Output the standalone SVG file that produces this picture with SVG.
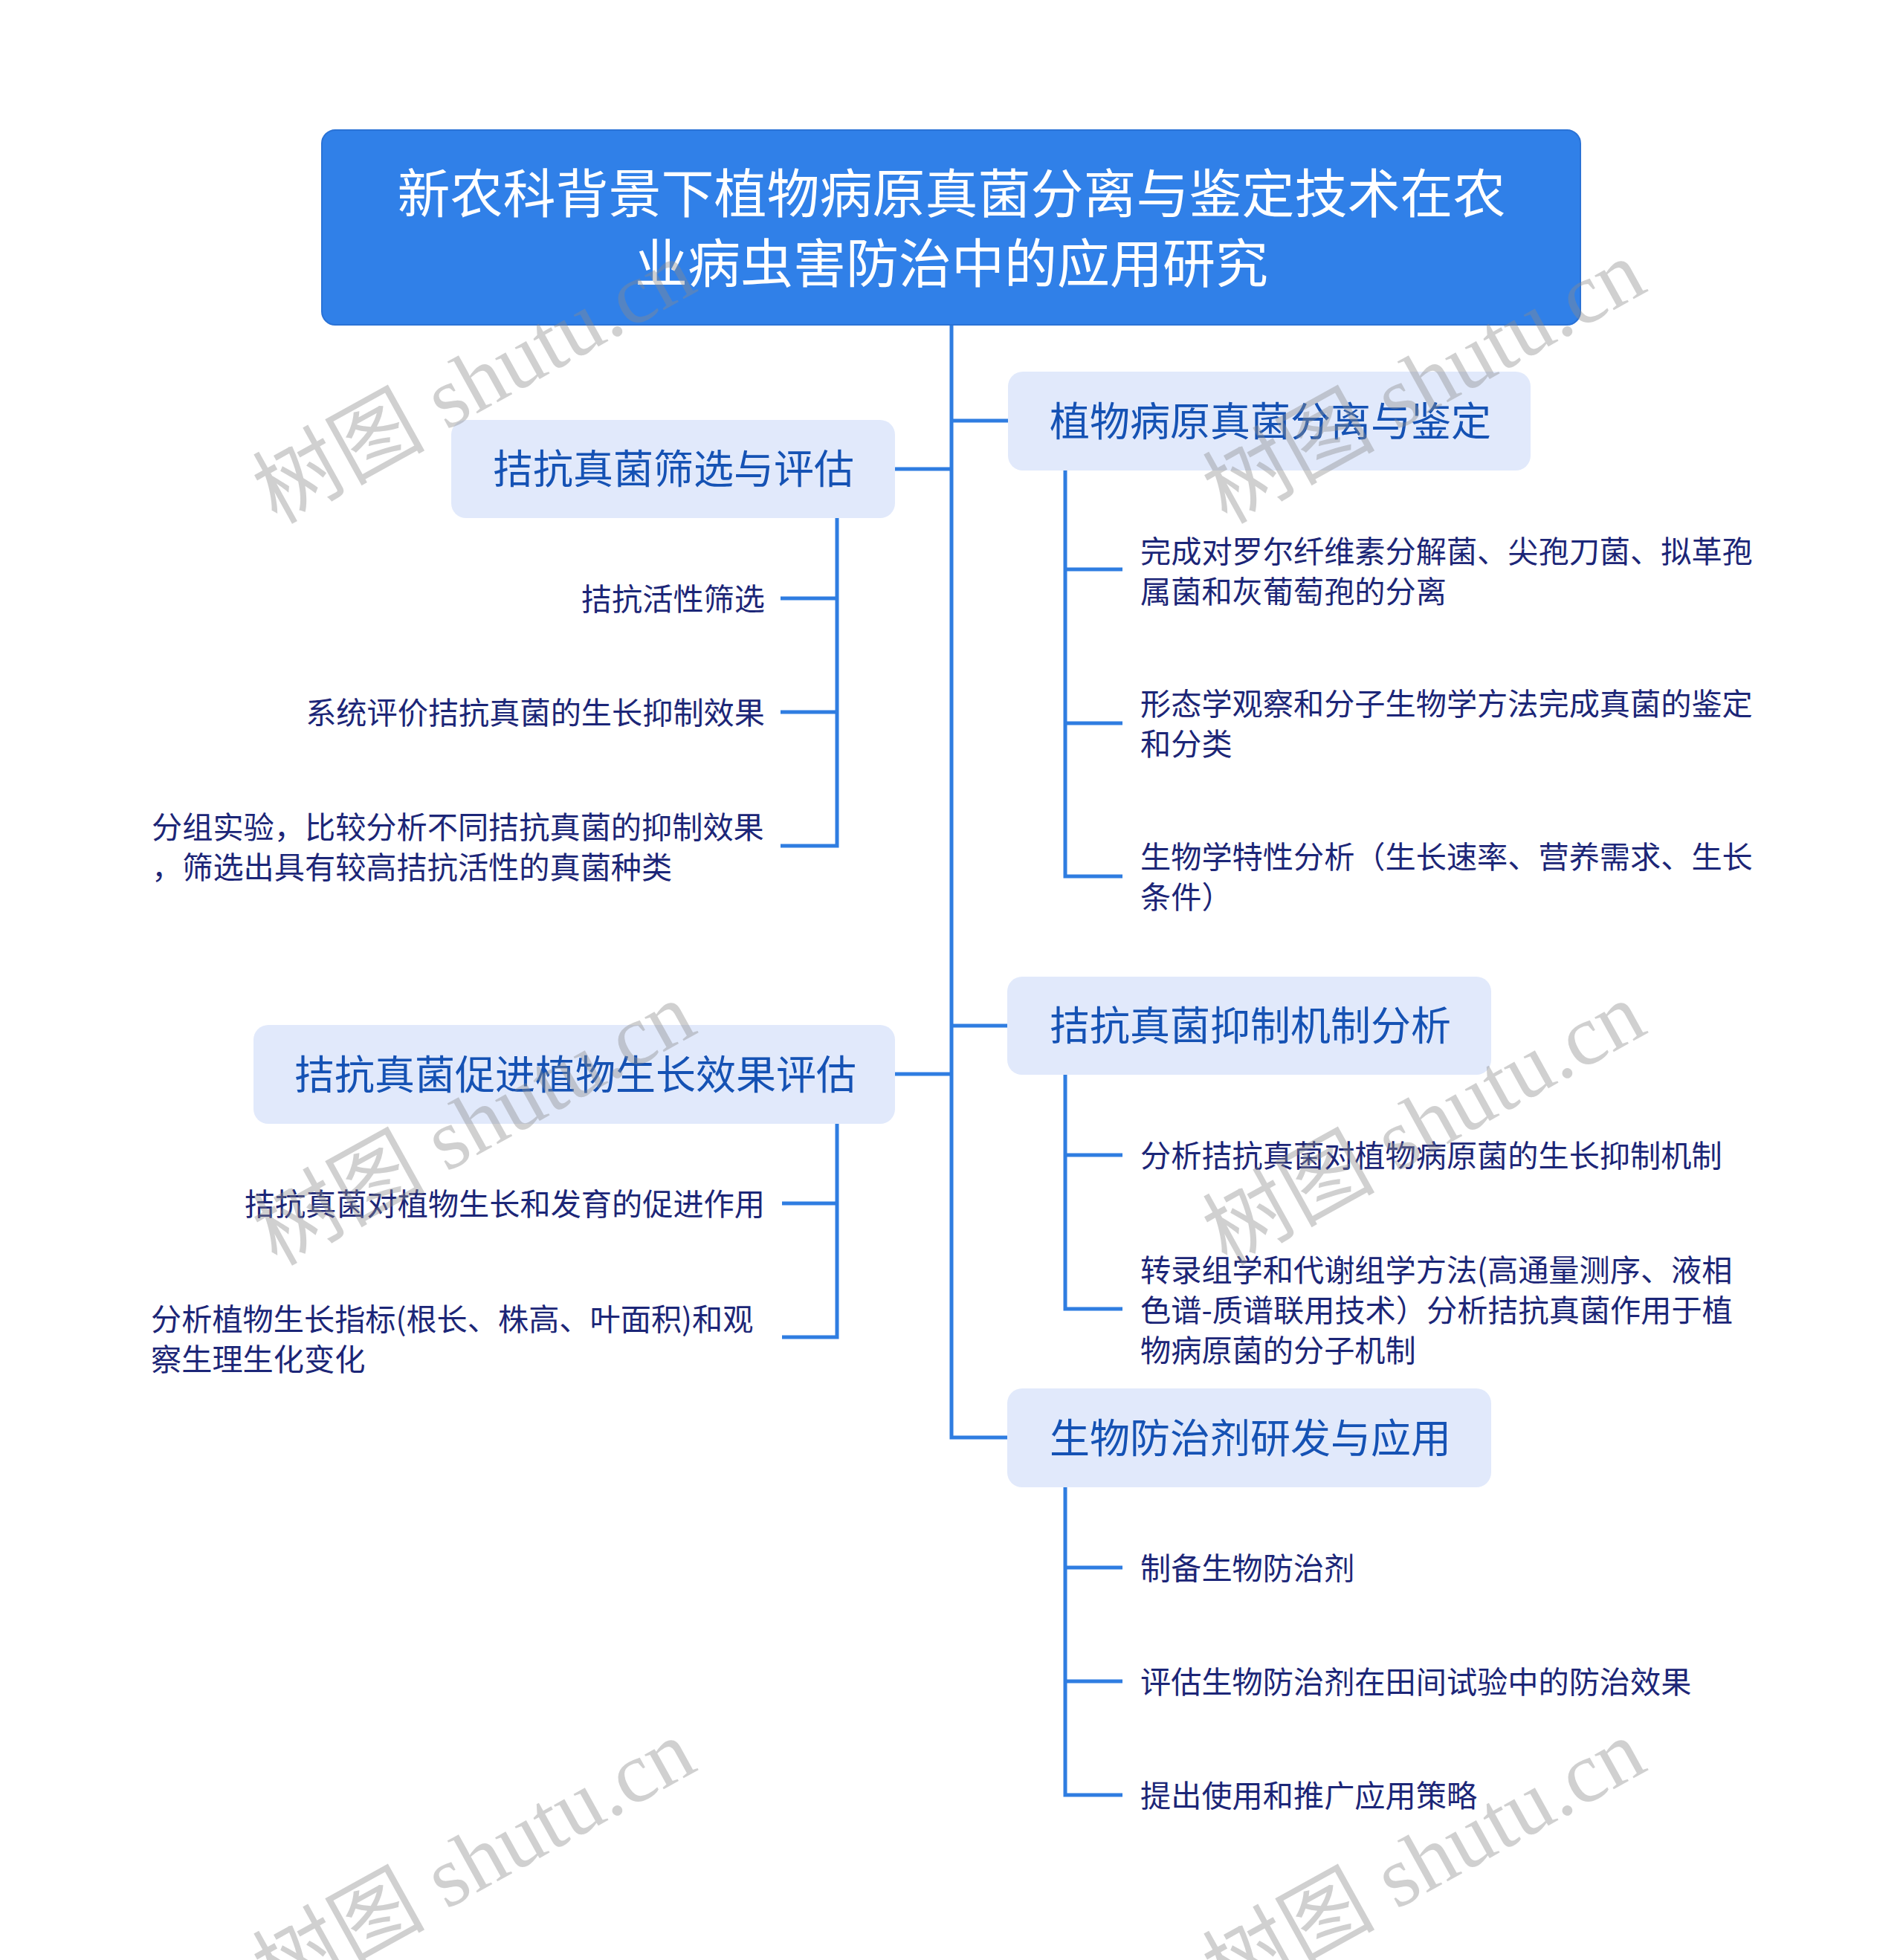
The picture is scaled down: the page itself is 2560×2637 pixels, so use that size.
<svg xmlns="http://www.w3.org/2000/svg" width="2560" height="2637" viewBox="0 0 2560 2637">
<style>
.root-box{fill:#3080E8;stroke:#2A72D6;stroke-width:2}
.root-t{font-family:"Noto Sans CJK SC","Liberation Sans",sans-serif;font-size:71px;fill:#FFFFFF;text-anchor:middle}
.l1-box{fill:#E1E9FB}
.l1-t{font-family:"Noto Sans CJK SC","Liberation Sans",sans-serif;font-size:54px;fill:#1552B4;text-anchor:middle}
.l2-t{font-family:"Noto Sans CJK SC","Liberation Sans",sans-serif;font-size:41.2px;fill:#1C2677}
.end{text-anchor:end}
.conn{fill:none;stroke:#2F7DE1;stroke-width:5;stroke-linejoin:miter}
.wm{font-family:"Liberation Serif","Noto Sans CJK SC",serif;font-size:116px;fill:#8C8C8C;opacity:0.4}
</style>
<rect width="2560" height="2637" fill="#FFFFFF"/>
<g id="connectors">
<path class="conn" d="M1280 437 V1934 H1355"/>
<path class="conn" d="M1280 566 H1356"/>
<path class="conn" d="M1280 1380 H1355"/>
<path class="conn" d="M1204 631 H1280"/>
<path class="conn" d="M1204 1445 H1280"/>
<path class="conn" d="M1126 697 V1138 H1050"/>
<path class="conn" d="M1126 805 H1050"/>
<path class="conn" d="M1126 958 H1050"/>
<path class="conn" d="M1126 1512 V1799 H1052"/>
<path class="conn" d="M1126 1619 H1052"/>
<path class="conn" d="M1433 633 V1179 H1510"/>
<path class="conn" d="M1433 766 H1510"/>
<path class="conn" d="M1433 973 H1510"/>
<path class="conn" d="M1433 1446 V1761 H1510"/>
<path class="conn" d="M1433 1554 H1510"/>
<path class="conn" d="M1433 2001 V2415 H1510"/>
<path class="conn" d="M1433 2109 H1510"/>
<path class="conn" d="M1433 2262 H1510"/>
</g>
<g id="root">
<rect class="root-box" x="433" y="175" width="1693" height="262" rx="18"/>
<text class="root-t" x="1280" y="286">新农科背景下植物病原真菌分离与鉴定技术在农</text>
<text class="root-t" x="1280" y="380">业病虫害防治中的应用研究</text>
</g>
<g id="node-a">
<rect class="l1-box" x="607" y="565" width="597" height="132" rx="20"/>
<text class="l1-t" x="906" y="651">拮抗真菌筛选与评估</text>
</g>
<g id="node-a1"><text class="l2-t end" x="1029" y="821">拮抗活性筛选</text></g>
<g id="node-a2"><text class="l2-t end" x="1029" y="974">系统评价拮抗真菌的生长抑制效果</text></g>
<g id="node-a3">
<text class="l2-t" x="204" y="1128">分组实验，比较分析不同拮抗真菌的抑制效果</text>
<text class="l2-t" x="204" y="1182">，筛选出具有较高拮抗活性的真菌种类</text>
</g>
<g id="node-b">
<rect class="l1-box" x="1356" y="500" width="703" height="133" rx="20"/>
<text class="l1-t" x="1709" y="587">植物病原真菌分离与鉴定</text>
</g>
<g id="node-b1">
<text class="l2-t" x="1534" y="757">完成对罗尔纤维素分解菌、尖孢刀菌、拟革孢</text>
<text class="l2-t" x="1534" y="811">属菌和灰葡萄孢的分离</text>
</g>
<g id="node-b2">
<text class="l2-t" x="1534" y="962">形态学观察和分子生物学方法完成真菌的鉴定</text>
<text class="l2-t" x="1534" y="1016">和分类</text>
</g>
<g id="node-b3">
<text class="l2-t" x="1534" y="1168">生物学特性分析（生长速率、营养需求、生长</text>
<text class="l2-t" x="1534" y="1222">条件）</text>
</g>
<g id="node-c">
<rect class="l1-box" x="341" y="1379" width="863" height="133" rx="20"/>
<text class="l1-t" x="774" y="1466">拮抗真菌促进植物生长效果评估</text>
</g>
<g id="node-c1"><text class="l2-t end" x="1029" y="1635">拮抗真菌对植物生长和发育的促进作用</text></g>
<g id="node-c2">
<text class="l2-t" x="203" y="1790">分析植物生长指标(根长、株高、叶面积)和观</text>
<text class="l2-t" x="203" y="1844">察生理生化变化</text>
</g>
<g id="node-d">
<rect class="l1-box" x="1355" y="1314" width="651" height="132" rx="20"/>
<text class="l1-t" x="1682" y="1400">拮抗真菌抑制机制分析</text>
</g>
<g id="node-d1"><text class="l2-t" x="1534" y="1570">分析拮抗真菌对植物病原菌的生长抑制机制</text></g>
<g id="node-d2">
<text class="l2-t" x="1534" y="1724">转录组学和代谢组学方法(高通量测序、液相</text>
<text class="l2-t" x="1534" y="1778">色谱-质谱联用技术）分析拮抗真菌作用于植</text>
<text class="l2-t" x="1534" y="1832">物病原菌的分子机制</text>
</g>
<g id="node-e">
<rect class="l1-box" x="1355" y="1868" width="651" height="133" rx="20"/>
<text class="l1-t" x="1682" y="1955">生物防治剂研发与应用</text>
</g>
<g id="node-e1"><text class="l2-t" x="1534" y="2125">制备生物防治剂</text></g>
<g id="node-e2"><text class="l2-t" x="1534" y="2278">评估生物防治剂在田间试验中的防治效果</text></g>
<g id="node-e3"><text class="l2-t" x="1534" y="2431">提出使用和推广应用策略</text></g>
<g id="watermarks">
<text class="wm" transform="translate(372,706) rotate(-29)">树图 shutu.cn</text>
<text class="wm" transform="translate(1650,706) rotate(-29)">树图 shutu.cn</text>
<text class="wm" transform="translate(372,1704) rotate(-29)">树图 shutu.cn</text>
<text class="wm" transform="translate(1650,1704) rotate(-29)">树图 shutu.cn</text>
<text class="wm" transform="translate(372,2696) rotate(-29)">树图 shutu.cn</text>
<text class="wm" transform="translate(1650,2696) rotate(-29)">树图 shutu.cn</text>
</g>
</svg>
